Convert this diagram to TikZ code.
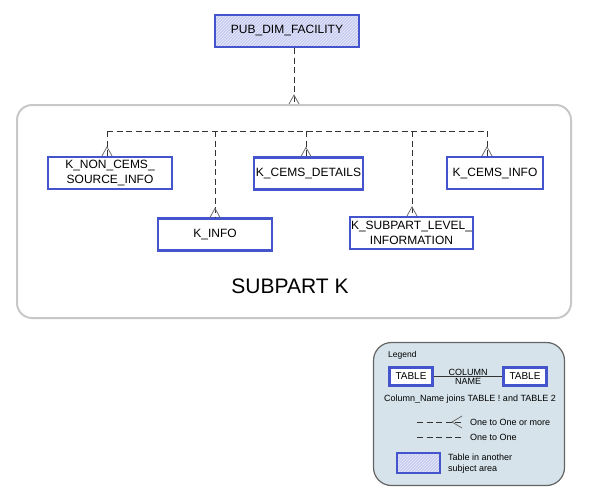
\documentclass[tikz,border=0pt]{standalone}
\usepackage{fontspec}
\setmainfont{Liberation Sans}
\usetikzlibrary{patterns,calc}

\definecolor{tableBlue}{RGB}{68,84,204}
\definecolor{hatchBlue}{RGB}{200,205,242}
\definecolor{boxGray}{RGB}{200,200,200}
\definecolor{legendFill}{RGB}{214,227,234}
\definecolor{legendEdge}{RGB}{100,100,100}
\definecolor{lineGray}{RGB}{51,51,51}
\definecolor{footGray}{RGB}{110,110,110}

\begin{document}
\begin{tikzpicture}[
        x=1pt, y=-1pt,
        every node/.style={font=\fontsize{12}{14.5}\selectfont, align=center, inner sep=0pt},
        nodeTable/.style={rectangle, draw=tableBlue, line width=2.2pt, minimum height=32pt},
        nodeOther/.style={nodeTable, preaction={fill=hatchBlue}, pattern=north east lines, pattern color=white!60!hatchBlue},
        nodeArea/.style={rectangle, draw=boxGray, line width=2pt, rounded corners=15pt},
        nodeLegend/.style={rectangle, draw=legendEdge, fill=legendFill, line width=1.2pt, rounded corners=18pt},
        relLine/.style={draw=lineGray, line width=0.9pt, dash pattern=on 6pt off 3.5pt},
        footLine/.style={draw=footGray, line width=0.8pt},
        legendText/.style={font=\fontsize{9}{11}\selectfont, align=left}
        ]
        \useasboundingbox (0,0) rectangle (591,501);

        % tabela de outra area
        \node [nodeOther, minimum width=144pt] (facility) at (287,31) {PUB\_DIM\_FACILITY};

        % area SUBPART K
        \node [nodeArea, minimum width=554pt, minimum height=213pt] (subpartK) at (294,211.5) {};
        \node [font=\fontsize{21}{25}\selectfont] (subpartLabel) at (290,286) {SUBPART K};

        \node [nodeTable, minimum width=124pt] (knon) at (110,173) {K\_NON\_CEMS\_\\SOURCE\_INFO};
        \node [nodeTable, minimum width=114pt] (kinfo) at (215,234.5) {K\_INFO};
        \node [nodeTable, minimum width=109pt] (kdetails) at (308.5,173.5) {K\_CEMS\_DETAILS};
        \node [nodeTable, minimum width=123pt] (ksub) at (411.5,233) {K\_SUBPART\_LEVEL\_\\INFORMATION};
        \node [nodeTable, minimum width=96pt] (kcems) at (495,173) {K\_CEMS\_INFO};

        \draw[relLine] (facility.south -| subpartK.north) -- (subpartK.north);
        \draw[footLine] ($(subpartK.north)+(-5,0)$) -- ($(subpartK.north)+(0,-9)$) -- ($(subpartK.north)+(5,0)$);

        \coordinate (bus) at (0,131);
        \draw[relLine] ($(knon.north |- bus)+(-3,0)$) -- ($(kcems.north |- bus)+(-8,0)$);
        \foreach \n/\dx in {knon/-3, kinfo/0, kdetails/-2.5, ksub/0.5, kcems/-8} {
            \draw[relLine] ($(\n.north |- bus)+(\dx,0)$) -- ($(\n.north)+(\dx,0)$);
            \draw[footLine] ($(\n.north)+(\dx-5,0)$) -- ($(\n.north)+(\dx,-9)$) -- ($(\n.north)+(\dx+5,0)$);
        }

        % legenda
        \node [nodeLegend, minimum width=191pt, minimum height=143pt] (legend) at (469,414) {};
        \node [font=\fontsize{8.5}{10}\selectfont, anchor=west] (legendTitle) at (388,355) {Legend};

        \node [nodeTable, fill=white, minimum width=43pt, minimum height=18pt, font=\fontsize{10}{12}\selectfont] (tableA) at (411,376.5) {TABLE};
        \node [nodeTable, fill=white, minimum width=43pt, minimum height=18pt, font=\fontsize{10}{12}\selectfont] (tableB) at (525,376.5) {TABLE};
        \draw[draw=lineGray, line width=0.8pt] (tableA.east) -- (tableB.west);
        \node [font=\fontsize{9}{10}\selectfont, anchor=south, yshift=0.5pt] (colName) at ($(tableA.east)!0.5!(tableB.west)$) {COLUMN};
        \node [font=\fontsize{9}{10}\selectfont, anchor=north, yshift=-2pt] (colNameB) at ($(tableA.east)!0.5!(tableB.west)$) {NAME};
        \node [legendText] (joinText) at (470,399) {Column\_Name joins TABLE ! and TABLE 2};

        \coordinate (manyL) at (417,422);
        \coordinate (manyR) at (462,422);
        \draw[relLine] (manyL) -- (manyR);
        \draw[footLine] ($(manyR)+(0,-6)$) -- ($(manyR)+(-10,0)$) -- ($(manyR)+(0,6)$);
        \node [legendText, anchor=west] (manyText) at (470,422) {One to One or more};

        \coordinate (oneL) at (417,437);
        \coordinate (oneR) at (462,437);
        \draw[relLine] (oneL) -- (oneR);
        \node [legendText, anchor=west] (oneText) at (470,437) {One to One};

        \node [nodeOther, minimum width=43pt, minimum height=20pt] (otherBox) at (418.5,463) {};
        \node [legendText, anchor=west] (otherText) at (448,463.5) {Table in another\\subject area};
    \end{tikzpicture}
\end{document}
